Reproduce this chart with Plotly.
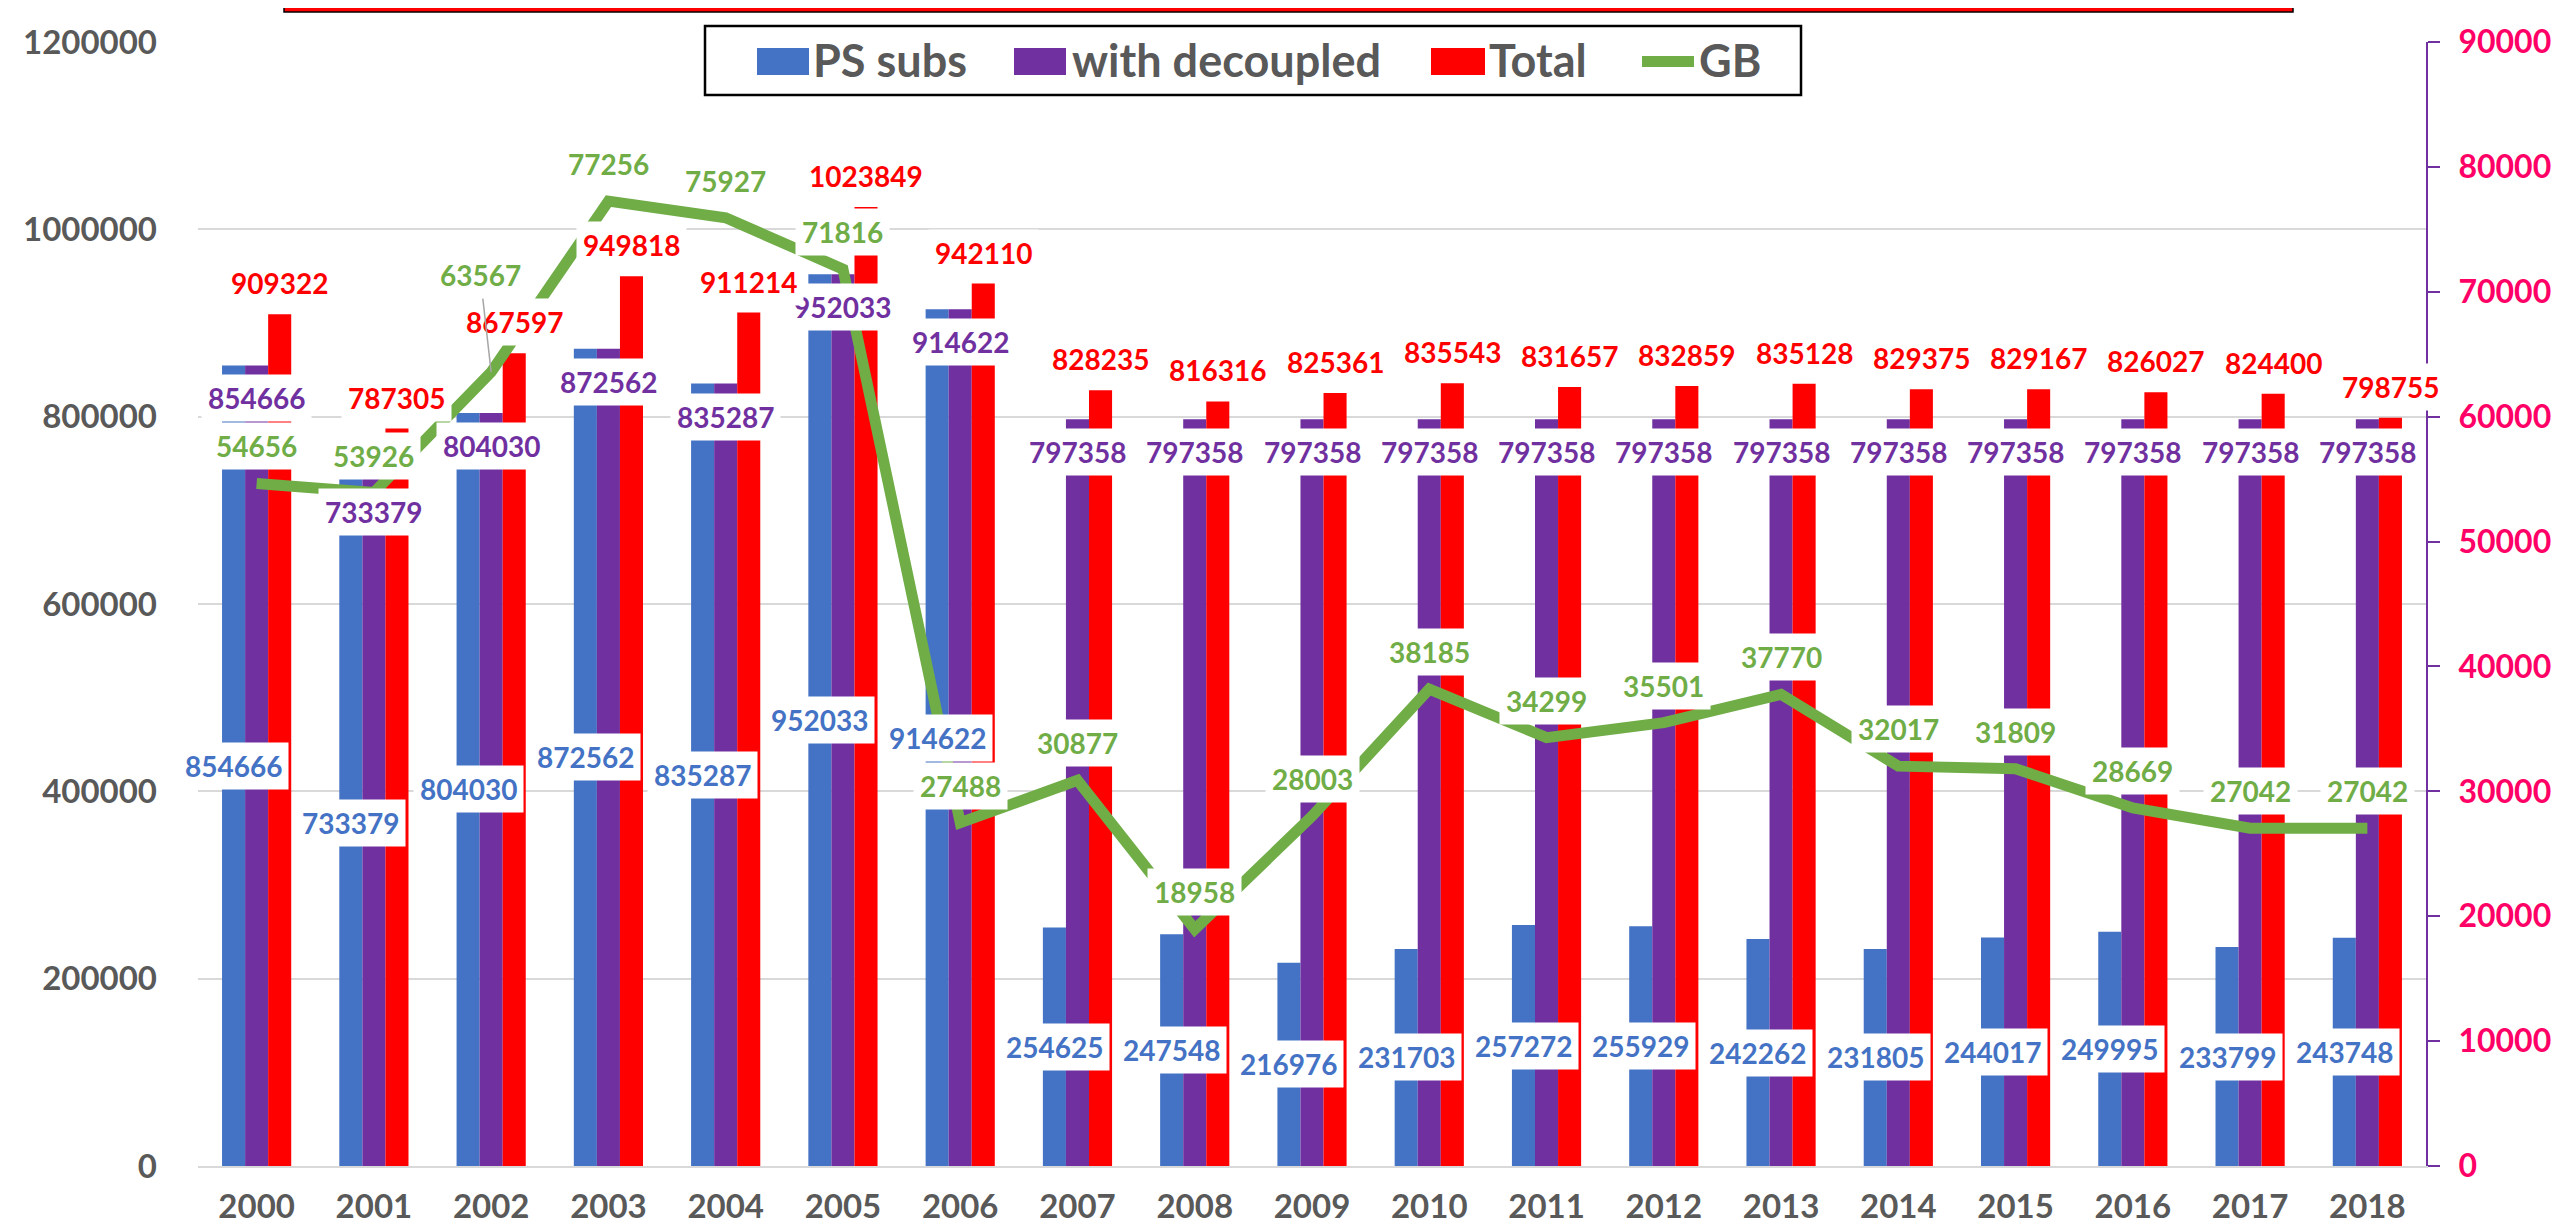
import plotly.graph_objects as go

# ---------------- data ----------------
years = [2000, 2001, 2002, 2003, 2004, 2005, 2006, 2007, 2008, 2009,
         2010, 2011, 2012, 2013, 2014, 2015, 2016, 2017, 2018]
year_labels = ["2000", "2001", "2002", "2003", "2004", "2005", "2006", "2007", "2008", "2009",
               "2010", "2011", "2012", "2013", "2014", "2015", "2016", "2017", "2018"]
ps_subs = [854666, 733379, 804030, 872562, 835287, 952033, 914622, 254625, 247548, 216976,
           231703, 257272, 255929, 242262, 231805, 244017, 249995, 233799, 243748]
with_decoupled = [854666, 733379, 804030, 872562, 835287, 952033, 914622, 797358, 797358, 797358,
                  797358, 797358, 797358, 797358, 797358, 797358, 797358, 797358, 797358]
total = [909322, 787305, 867597, 949818, 911214, 1023849, 942110, 828235, 816316, 825361,
         835543, 831657, 832859, 835128, 829375, 829167, 826027, 824400, 798755]
gb = [54656, 53926, 63567, 77256, 75927, 71816, 27488, 30877, 18958, 28003,
      38185, 34299, 35501, 37770, 32017, 31809, 28669, 27042, 27042]
series_names = ["PS subs", "with decoupled", "Total", "GB"]

# ---------------- style ----------------
BLUE, PURPLE, RED, GREEN = "#4472C4", "#7030A0", "#FF0000", "#70AD47"
GREY_TXT, GRID, PINK = "#595959", "#D9D9D9", "#FF0066"
FONT = "Lato"
W, H = 2560, 1226
L, R, T, B = 190, 142, 34, 68
PW, PH = W - L - R, H - T - B
BARGAP = 0.41
cat_px = PW / len(years)
bw = cat_px * (1 - BARGAP) / 3  # px width of one bar

def px_x(X):
    return (X - L) / PW

def px_y(Y):
    return (H - B - Y) / PH

fig = go.Figure()
fig.add_trace(go.Bar(x=years, y=ps_subs, name=series_names[0], marker=dict(color=BLUE, line=dict(width=0))))
fig.add_trace(go.Bar(x=years, y=with_decoupled, name=series_names[1], marker=dict(color=PURPLE, line=dict(width=0))))
fig.add_trace(go.Bar(x=years, y=total, name=series_names[2], marker=dict(color=RED, line=dict(width=0))))
fig.add_trace(go.Scatter(x=years, y=gb, name=series_names[3], yaxis="y2", mode="lines",
                         line=dict(color=GREEN, width=11)))

def lab_font(c):
    return dict(family=FONT, size=28, color=c, weight="bold")

ann = []
for i, yr in enumerate(years):
    ann.append(dict(x=yr, y=ps_subs[i] / 2, xref="x", yref="y", text=str(ps_subs[i]), showarrow=False,
                    xshift=-bw, bgcolor="white", borderpad=6, font=lab_font(BLUE)))
for i, yr in enumerate(years):
    ann.append(dict(x=yr, y=with_decoupled[i], xref="x", yref="y", text=str(with_decoupled[i]), showarrow=False,
                    yshift=-33, bgcolor="white", borderpad=6, font=lab_font(PURPLE)))
for i, yr in enumerate(years):
    ann.append(dict(x=yr, y=total[i], xref="x", yref="y", text=str(total[i]), showarrow=False,
                    xshift=bw, yshift=31, bgcolor="white", borderpad=6, font=lab_font(RED)))
for i, yr in enumerate(years):
    if yr == 2002:
        ann.append(dict(x=yr, y=gb[i], xref="x", yref="y2", text=str(gb[i]), showarrow=True,
                        arrowhead=0, arrowwidth=1.5, arrowcolor="#A6A6A6", ax=-11, ay=-97, standoff=0,
                        bgcolor="white", borderpad=6, font=lab_font(GREEN)))
    else:
        ann.append(dict(x=yr, y=gb[i], xref="x", yref="y2", text=str(gb[i]), showarrow=False,
                        yshift=37, bgcolor="white", borderpad=6, font=lab_font(GREEN)))

# custom legend and top banner
leg_font = dict(family=FONT, size=45, color=GREY_TXT, weight="bold")
shapes = []
shapes.append(dict(type="rect", xref="paper", yref="paper", x0=px_x(276), x1=px_x(2285),
                   y0=px_y(4), y1=px_y(-20), fillcolor=RED, line=dict(color="black", width=1.5)))
shapes.append(dict(type="rect", xref="paper", yref="paper", x0=px_x(697), x1=px_x(1793),
                   y0=px_y(87), y1=px_y(18), fillcolor="rgba(0,0,0,0)", line=dict(color="black", width=2.5)))
keys = [(749, 801, BLUE), (1006, 1058, PURPLE), (1423, 1477, RED)]
for x0, x1, c in keys:
    shapes.append(dict(type="rect", xref="paper", yref="paper", x0=px_x(x0), x1=px_x(x1),
                       y0=px_y(67), y1=px_y(40), fillcolor=c, line=dict(width=0)))
shapes.append(dict(type="line", xref="paper", yref="paper", x0=px_x(1634), x1=px_x(1686),
                   y0=px_y(53.5), y1=px_y(53.5), line=dict(color=GREEN, width=11)))
text_x = [803, 1062, 1479, 1689]
for tx, nm in zip(text_x, series_names):
    ann.append(dict(x=px_x(tx), y=px_y(52), xref="paper", yref="paper", text=nm, showarrow=False,
                    xanchor="left", yanchor="middle", font=leg_font))

tick_font = dict(family=FONT, size=33, color=GREY_TXT, weight="bold")
fig.update_layout(
    width=W, height=H, margin=dict(l=L, r=R, t=T, b=B, autoexpand=False),
    paper_bgcolor="white", plot_bgcolor="white",
    barmode="group", bargap=BARGAP, bargroupgap=0,
    showlegend=False,
    xaxis=dict(range=[years[0] - 0.5, years[-1] + 0.5], tickvals=years, ticktext=year_labels,
               showline=True, linecolor=GRID, linewidth=2, ticks="",
               tickfont=tick_font, ticklabelstandoff=10, showgrid=False, zeroline=False),
    yaxis=dict(range=[0, 1200000], dtick=200000, tickformat="d", showgrid=True, gridcolor=GRID,
               gridwidth=2, zeroline=False, tickfont=tick_font, ticks="", ticklabelstandoff=40),
    yaxis2=dict(range=[0, 90000], dtick=10000, tickformat="d", overlaying="y", side="right",
                showgrid=False, zeroline=False, showline=True, linecolor=PURPLE, linewidth=2,
                ticks="outside", ticklen=12, tickwidth=2, tickcolor=PURPLE,
                tickfont=dict(family=FONT, size=32, color=PINK, weight="bold"), ticklabelstandoff=12),
    annotations=ann, shapes=shapes,
)
fig.write_html("out.html")
